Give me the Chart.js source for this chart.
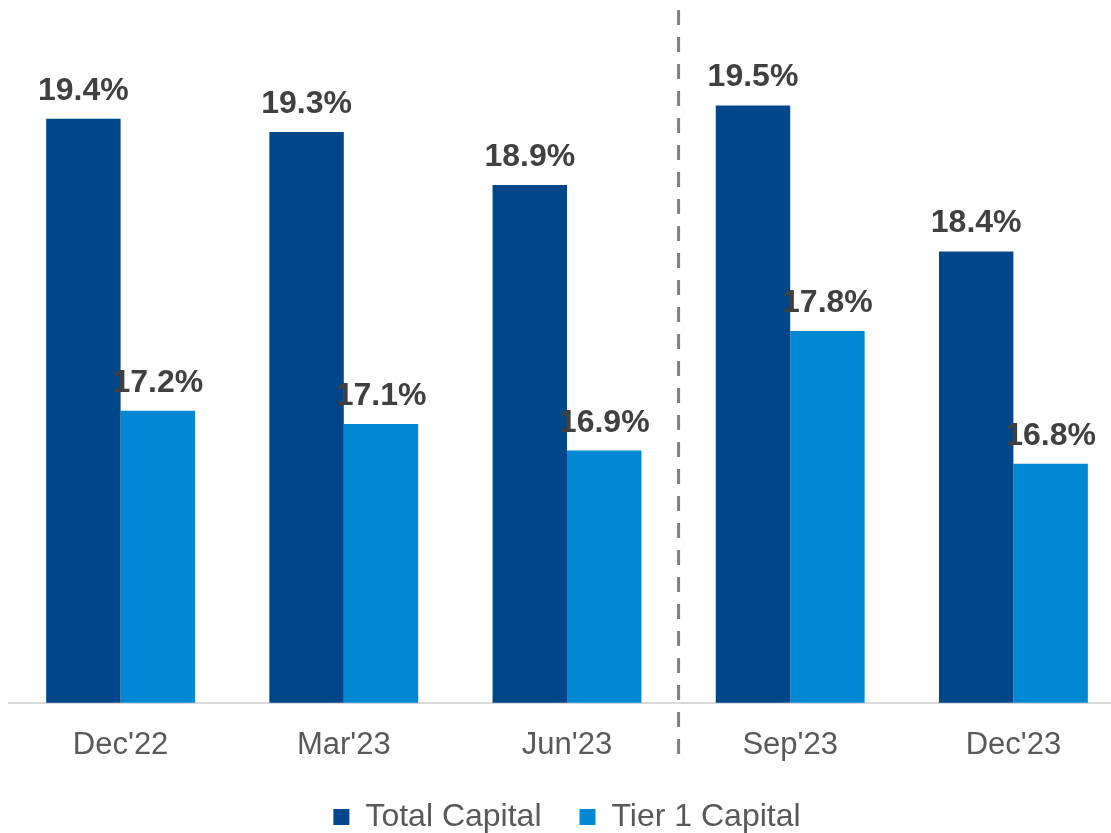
<!DOCTYPE html>
<html lang="en">
<head>
  <meta charset="UTF-8">
  <title>Capital Ratios</title>
  <script src="https://cdn.jsdelivr.net/npm/chart.js"></script>
  <style>
    body {
      margin: 0;
      background: #fff;
      overflow: hidden;
    }
    .chart-box {
      width: 1125px;
      height: 833px;
    }
  </style>
</head>
<body>
  <div class="chart-box">
    <canvas id="capChart"></canvas>
  </div>

  <script>
    const quarters = ["Dec'22", "Mar'23", "Jun'23", "Sep'23", "Dec'23"];
    const totalCapital = [19.4, 19.3, 18.9, 19.5, 18.4];
    const tier1Capital = [17.2, 17.1, 16.9, 17.8, 16.8];

    const darkBlue = '#00468B';
    const lightBlue = '#0089D2';
    const fontName = "'Liberation Sans', Arial, sans-serif";

    // value labels above each bar
    const barLabels = {
      id: 'barLabels',
      afterDatasetsDraw(chart) {
        const ctx = chart.ctx;
        ctx.save();
        ctx.font = `bold 32px ${fontName}`;
        ctx.fillStyle = '#404040';
        ctx.textAlign = 'center';
        ctx.textBaseline = 'alphabetic';
        chart.data.datasets.forEach((ds, i) => {
          chart.getDatasetMeta(i).data.forEach((bar, j) => {
            ctx.fillText(ds.data[j].toFixed(1) + '%', bar.x, bar.y - 19);
          });
        });
        ctx.restore();
      }
    };

    // dashed divider between Jun'23 and Sep'23
    const divider = {
      id: 'divider',
      afterDraw(chart) {
        const x = chart.scales.x;
        const px = (x.getPixelForValue(2) + x.getPixelForValue(3)) / 2;
        const ctx = chart.ctx;
        ctx.save();
        ctx.strokeStyle = '#808080';
        ctx.lineWidth = 3;
        ctx.setLineDash([15, 12]);
        ctx.beginPath();
        ctx.moveTo(px, 10);
        ctx.lineTo(px, 756);
        ctx.stroke();
        ctx.restore();
      }
    };

    // pull the legend a bit closer to the bottom edge
    const legendTrim = {
      id: 'legendTrim',
      beforeInit(chart) {
        const fit = chart.legend.fit;
        chart.legend.fit = function () {
          fit.call(this);
          this.height -= 10;
        };
      }
    };

    new Chart(document.getElementById('capChart'), {
      type: 'bar',
      data: {
        labels: quarters,
        datasets: [
          {
            label: 'Total Capital',
            data: totalCapital,
            backgroundColor: darkBlue,
            categoryPercentage: 0.667,
            barPercentage: 1.0
          },
          {
            label: 'Tier 1 Capital',
            data: tier1Capital,
            backgroundColor: lightBlue,
            categoryPercentage: 0.667,
            barPercentage: 1.0
          }
        ]
      },
      options: {
        responsive: true,
        maintainAspectRatio: false,
        animation: false,
        layout: {
          padding: { left: 9, right: 0, top: 39, bottom: 0 }
        },
        plugins: {
          tooltip: { enabled: false },
          legend: {
            position: 'bottom',
            labels: {
              boxWidth: 16,
              boxHeight: 16,
              padding: 38,
              color: '#595959',
              font: { family: fontName, size: 32 }
            }
          }
        },
        scales: {
          x: {
            grid: { display: false },
            border: { color: '#d9d9d9', width: 2 },
            ticks: {
              color: '#595959',
              padding: 16,
              font: { family: fontName, size: 31 }
            },
            afterFit(scale) {
              scale.height -= 17;
            }
          },
          y: {
            display: false,
            min: 15,
            max: 20
          }
        }
      },
      plugins: [barLabels, divider, legendTrim]
    });
  </script>
</body>
</html>
